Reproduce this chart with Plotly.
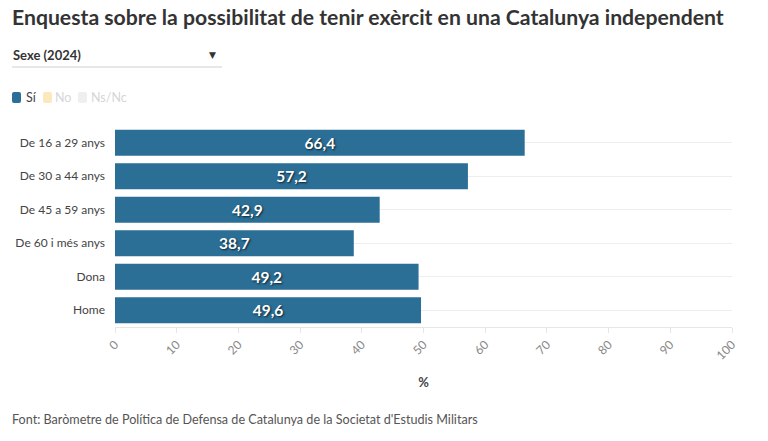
import plotly.graph_objects as go

categories = ["De 16 a 29 anys", "De 30 a 44 anys", "De 45 a 59 anys",
              "De 60 i més anys", "Dona", "Home"]
si_values = [66.4, 57.2, 42.9, 38.7, 49.2, 49.6]
series_names = ["Sí", "No", "Ns/Nc"]
series_colors = ["#2b6e96", "#fbe9bd", "#efefef"]
legend_text_colors = ["#444", "#d6d6d6", "#d6d6d6"]
x_ticks = [0, 10, 20, 30, 40, 50, 60, 70, 80, 90, 100]

FONT = "Lato"
L, R, T, B = 115, 36, 126, 114
PW, PH = 768 - L - R, 441 - T - B


def px(x):
    return (x - L) / PW


def py(y):
    return 1 - (y - T) / PH


fig = go.Figure()
fig.add_trace(go.Bar(
    y=categories, x=si_values, orientation="h", name=series_names[0],
    marker=dict(color=series_colors[0], line=dict(width=0)),
    text=[f"{v:.1f}".replace(".", ",") for v in si_values],
    textposition="inside", insidetextanchor="middle",
    textfont=dict(family=FONT, size=15.5, color="white", weight="bold",
                  shadow="1px 1px 2px rgba(0,0,0,0.7)"),
    hoverinfo="skip", width=0.78,
))

fig.update_layout(
    width=768, height=441,
    margin=dict(l=L, r=R, t=T, b=B),
    paper_bgcolor="white", plot_bgcolor="white",
    font=dict(family=FONT, color="#444"),
    showlegend=False,
    xaxis=dict(range=[0, 100], tickvals=x_ticks, tickangle=-45,
               showgrid=False, zeroline=False,
               showline=True, linecolor="#e6e6e6", linewidth=1,
               ticks="outside", ticklen=5, tickcolor="#e6e6e6",
               tickfont=dict(family=FONT, size=12, color="#888"),
               title=dict(text="%", font=dict(family=FONT, size=13, color="#444", weight="bold"),
                          standoff=16)),
    yaxis=dict(autorange="reversed", showgrid=True, gridcolor="#eeeeee",
               ticks="", ticklabelstandoff=9,
               tickfont=dict(family=FONT, size=12, color="#444")),
)

# Title
fig.add_annotation(text="<b>Enquesta sobre la possibilitat de tenir exèrcit en una Catalunya independent</b>",
                   xref="paper", yref="paper", x=px(10), y=py(17),
                   xanchor="left", yanchor="middle", showarrow=False,
                   font=dict(family=FONT, size=21.2, color="#333"))
# Dropdown look
fig.add_annotation(text="<b>Sexe (2024)</b>", xref="paper", yref="paper",
                   x=px(11), y=py(55), xanchor="left", yanchor="middle",
                   showarrow=False, font=dict(family=FONT, size=13, color="#333"))
fig.add_annotation(text="▼", xref="paper", yref="paper",
                   x=px(212), y=py(55), xanchor="center", yanchor="middle",
                   showarrow=False, font=dict(family="DejaVu Sans", size=9, color="#333"))
fig.add_shape(type="line", xref="paper", yref="paper",
              x0=px(12), x1=px(222), y0=py(67), y1=py(67),
              line=dict(color="#d0d0d0", width=1))

# Legend (Sí active, others disabled)
legend_box_x = [12, 43, 78]
legend_text_x = [24, 53, 89]
for name, col, tcol, bx, tx in zip(series_names, series_colors, legend_text_colors,
                                   legend_box_x, legend_text_x):
    fig.add_shape(type="path", xref="paper", yref="paper",
                  path=(f"M {px(bx + 2)} {py(92)} L {px(bx + 7)} {py(92)} "
                        f"Q {px(bx + 9)} {py(92)} {px(bx + 9)} {py(94)} "
                        f"L {px(bx + 9)} {py(101)} Q {px(bx + 9)} {py(103)} {px(bx + 7)} {py(103)} "
                        f"L {px(bx + 2)} {py(103)} Q {px(bx)} {py(103)} {px(bx)} {py(101)} "
                        f"L {px(bx)} {py(94)} Q {px(bx)} {py(92)} {px(bx + 2)} {py(92)} Z"),
                  fillcolor=col, line=dict(width=0))
    fig.add_annotation(text=name, xref="paper", yref="paper", x=px(tx), y=py(97.5),
                       xanchor="left", yanchor="middle", showarrow=False,
                       font=dict(family=FONT, size=12.5, color=tcol))

# Source
fig.add_annotation(text="Font: Baròmetre de Política de Defensa de Catalunya de la Societat d'Estudis Militars",
                   xref="paper", yref="paper", x=px(10), y=py(419),
                   xanchor="left", yanchor="middle", showarrow=False,
                   font=dict(family=FONT, size=12.6, color="#555"))

fig.write_html("out.html")
